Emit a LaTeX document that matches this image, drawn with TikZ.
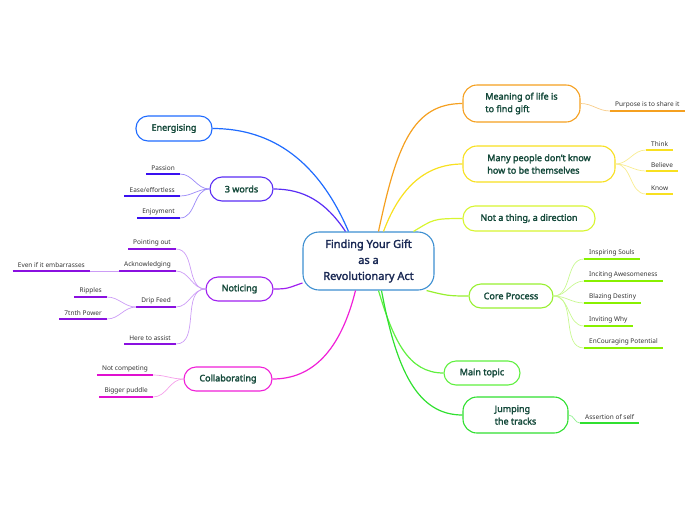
\documentclass[tikz,border=0pt]{standalone}
\usepackage{fontspec}
\setmainfont{Noto Sans}[AutoFakeBold=2.2]
\definecolor{cblue}{HTML}{3D8FD1}
\definecolor{ctext}{HTML}{1B2A55}
\definecolor{mtext}{HTML}{14493A}
\definecolor{ltext}{HTML}{333333}
\definecolor{ener}{HTML}{1F6BFF}
\definecolor{three}{HTML}{5A2DF5}
\definecolor{threeU}{HTML}{3A10F0}
\definecolor{threeL}{HTML}{9A88F8}
\definecolor{notic}{HTML}{A020F0}
\definecolor{noticU}{HTML}{8A10E0}
\definecolor{noticL}{HTML}{CC9CF6}
\definecolor{collab}{HTML}{F020D8}
\definecolor{collabU}{HTML}{E010D0}
\definecolor{collabL}{HTML}{F5A0EA}
\definecolor{mean}{HTML}{F5A020}
\definecolor{meanL}{HTML}{F8CC88}
\definecolor{many}{HTML}{F8E020}
\definecolor{manyL}{HTML}{F8EC90}
\definecolor{nott}{HTML}{D8F530}
\definecolor{core}{HTML}{98F030}
\definecolor{coreU}{HTML}{88F000}
\definecolor{coreL}{HTML}{C8F890}
\definecolor{mtop}{HTML}{60F040}
\definecolor{jump}{HTML}{30E030}
\definecolor{jumpL}{HTML}{90F090}
\tikzset{
  mnode/.style={draw=#1, line width=1.1pt, fill=white, rounded corners=12pt,
    font=\fontsize{9}{12.5}\selectfont\bfseries, text=mtext, inner sep=0pt, align=left},
  leafnode/.style={inner xsep=5pt, inner ysep=3pt, font=\fontsize{6.5}{7.5}\selectfont, text=ltext},
  mline/.style={draw=#1, line width=1.2pt},
  lline/.style={draw=#1, line width=0.7pt},
  uline/.style={draw=#1, line width=1.8pt},
}
\begin{document}
\begin{tikzpicture}[x=1pt,y=-1pt]
\useasboundingbox (0,0) rectangle (696,520);

% central node
\node[draw=cblue, line width=1.1pt, fill=white, rounded corners=16pt, minimum width=131pt, minimum height=58pt,
  inner sep=0pt, align=center, text=ctext, font=\fontsize{11}{16}\selectfont\bfseries]
  (c) at (368.5,261) {Finding Your Gift\\as a\\Revolutionary Act};

% main nodes
\node[mnode=mean, minimum width=117pt, minimum height=37pt, rounded corners=14pt] (mean) at (521.5,103.5) {Meaning of life is\\to find gift};
\node[mnode=many, minimum width=152pt, minimum height=36pt, rounded corners=14pt] (many) at (539,164) {Many people don't know\\how to be themselves};
\node[mnode=nott, minimum width=132pt, minimum height=25pt] (nott) at (529,218.5) {Not a thing, a direction};
\node[mnode=core, minimum width=84pt, minimum height=24pt] (core) at (511,296) {Core Process};
\node[mnode=mtop, minimum width=76pt, minimum height=24pt] (mtop) at (482,373) {Main topic};
\node[mnode=jump, minimum width=105pt, minimum height=36pt, rounded corners=14pt] (jump) at (515.5,415) {Jumping\\the tracks};
\node[mnode=ener, minimum width=76pt, minimum height=25pt] (ener) at (174,128.5) {Energising};
\node[mnode=three, minimum width=63pt, minimum height=24pt] (three) at (241.5,189) {3 words};
\node[mnode=notic, minimum width=67pt, minimum height=24pt] (notic) at (239.5,289) {Noticing};
\node[mnode=collab, minimum width=88pt, minimum height=24pt] (collab) at (228,379) {Collaborating};

% main connectors
\draw[mline=mean] ([xshift=10pt]c.north) .. controls +(18,-85) and +(-50,0) .. (mean.west);
\draw[mline=many] ([xshift=15pt]c.north) .. controls +(15,-40) and +(-40,0) .. (many.west);
\draw[mline=nott] ([xshift=45pt]c.north) .. controls +(20,-12) and +(-30,0) .. (nott.west);
\draw[mline=core] ([xshift=-8pt]c.south east) .. controls +(20,5) and +(-20,0) .. (core.west);
\draw[mline=mtop] ([xshift=10pt]c.south) .. controls +(15,50) and +(-35,0) .. (mtop.west);
\draw[mline=jump] ([xshift=13pt]c.south) .. controls +(15,80) and +(-45,0) .. (jump.west);
\draw[mline=ener] ([xshift=-20pt]c.north) .. controls +(-30,-70) and +(60,0) .. (ener.east);
\draw[mline=three] ([xshift=-23pt]c.north) .. controls +(-20,-30) and +(30,0) .. (three.east);
\draw[mline=notic] ([yshift=-22pt]c.west) .. controls +(-15,5) and +(15,0) .. (notic.east);
\draw[mline=collab] ([xshift=-13pt]c.south) .. controls +(-15,60) and +(40,0) .. (collab.east);

% leaves right
\node[leafnode, anchor=south west] (purp) at (610,111) {Purpose is to share it};
\node[leafnode, anchor=south west] (think) at (646,150) {Think};
\node[leafnode, anchor=south west] (beli) at (646,171) {Believe};
\node[leafnode, anchor=south west] (know) at (646,194) {Know};
\node[leafnode, anchor=south west] (insp) at (584,259) {Inspiring Souls};
\node[leafnode, anchor=south west] (inci) at (584,281) {Inciting Awesomeness};
\node[leafnode, anchor=south west] (blaz) at (584,303) {Blazing Destiny};
\node[leafnode, anchor=south west] (invi) at (584,326) {Inviting Why};
\node[leafnode, anchor=south west] (enco) at (584,348) {EnCouraging Potential};
\node[leafnode, anchor=south west] (asse) at (580,423) {Assertion of self};

% leaves left
\node[leafnode, anchor=south east] (pass) at (180,174) {Passion};
\node[leafnode, anchor=south east] (ease) at (180,196) {Ease/effortless};
\node[leafnode, anchor=south east] (enjo) at (180,218) {Enjoyment};
\node[leafnode, anchor=south east] (poin) at (176,249) {Pointing out};
\node[leafnode, anchor=south east] (ackn) at (176,271) {Acknowledging};
\node[leafnode, anchor=south east] (even) at (90,271) {Even if it embarrasses};
\node[leafnode, anchor=south east] (drip) at (176,307) {Drip Feed};
\node[leafnode, anchor=south east] (ripp) at (107,297) {Ripples};
\node[leafnode, anchor=south east] (sevn) at (107,319) {7tnth Power};
\node[leafnode, anchor=south east] (here) at (176,344) {Here to assist};
\node[leafnode, anchor=south east] (ncom) at (153,375) {Not competing};
\node[leafnode, anchor=south east] (bigg) at (153,397) {Bigger puddle};

% leaf connectors right
\draw[lline=meanL] (mean.east) to[out=0,in=180] (purp.south west);
\foreach \n in {think,beli,know} \draw[lline=manyL] (many.east) to[out=0,in=180] (\n.south west);
\foreach \n in {insp,inci,blaz,invi,enco} \draw[lline=coreL] (core.east) to[out=0,in=180] (\n.south west);
\draw[lline=jumpL] (jump.east) to[out=0,in=180] (asse.south west);

% leaf connectors left
\foreach \n in {pass,ease,enjo} \draw[lline=threeL] (three.west) to[out=180,in=0] (\n.south east);
\foreach \n in {poin,ackn,drip,here} \draw[lline=noticL] (notic.west) to[out=180,in=0] (\n.south east);
\draw[lline=noticL] (ackn.south west) -- (even.south east);
\foreach \n in {ripp,sevn} \draw[lline=noticL] (drip.south west) to[out=180,in=0] (\n.south east);
\foreach \n in {ncom,bigg} \draw[lline=collabL] (collab.west) to[out=180,in=0] (\n.south east);

% underlines
\draw[uline=mean] (purp.south west) -- (purp.south east);
\foreach \n in {think,beli,know} \draw[uline=many] (\n.south west) -- (\n.south east);
\foreach \n in {insp,inci,blaz,invi,enco} \draw[uline=coreU] (\n.south west) -- (\n.south east);
\draw[uline=jump] (asse.south west) -- (asse.south east);
\foreach \n in {pass,ease,enjo} \draw[uline=threeU] (\n.south west) -- (\n.south east);
\foreach \n in {poin,ackn,even,drip,ripp,sevn,here} \draw[uline=noticU] (\n.south west) -- (\n.south east);
\foreach \n in {ncom,bigg} \draw[uline=collabU] (\n.south west) -- (\n.south east);
\end{tikzpicture}
\end{document}
